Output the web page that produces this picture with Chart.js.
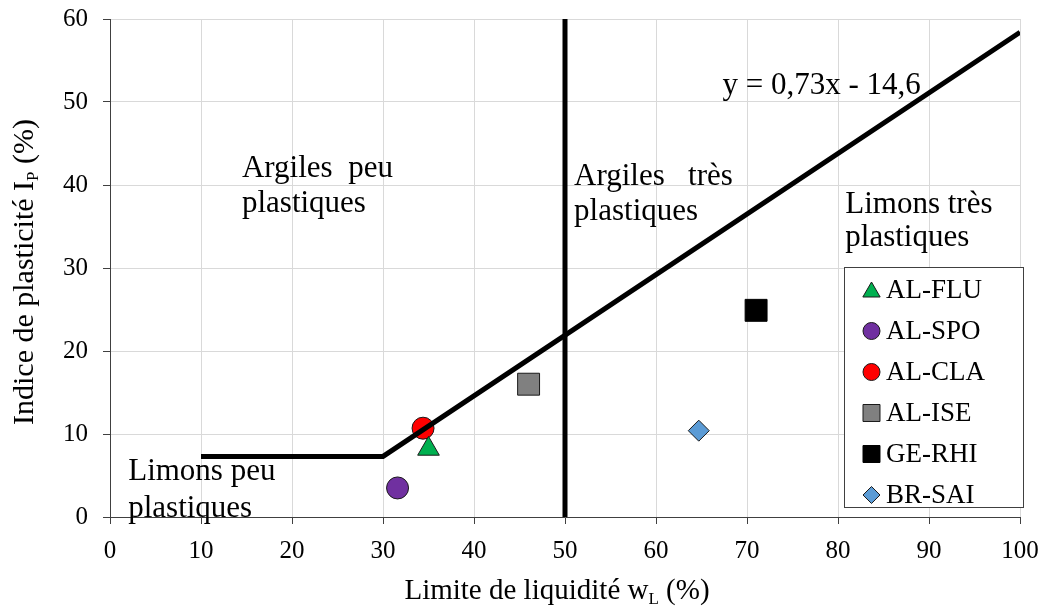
<!DOCTYPE html>
<html>
<head>
<meta charset="utf-8">
<script src="https://cdn.jsdelivr.net/npm/chart.js@4.4.0/dist/chart.umd.min.js"></script>
<style>
    html, body { margin: 0; padding: 0; background: #fff; }
</style>
</head>
<body>
<canvas id="myChart" width="1044" height="607"></canvas>
<script>
// samples (liquid limit wL, plasticity index Ip)
const sampleNames = ['AL-FLU', 'AL-SPO', 'AL-CLA', 'AL-ISE', 'GE-RHI', 'BR-SAI'];
const liquidLimit = [35.0, 31.6, 34.4, 46.0, 71.0, 64.7];
const plasticityIndex = [8.2, 3.5, 10.7, 16.0, 24.9, 10.4];

// Casagrande A-line and the wL = 50 boundary
const aLineX = [10, 30, 100];
const aLineY = [7.3, 7.3, 58.4];
const boundaryX = [50, 50];
const boundaryY = [0, 60];

const xTicks = [0, 10, 20, 30, 40, 50, 60, 70, 80, 90, 100];
const yTicks = [0, 10, 20, 30, 40, 50, 60];

const markerStyles = [
    { pointStyle: 'triangle', radius: 12.5, bg: '#00b050', border: '#1a1a1a', lr: 10 },
    { pointStyle: 'circle', radius: 11, bg: '#7030a0', border: '#1a1a1a', lr: 8.5 },
    { pointStyle: 'circle', radius: 11, bg: '#ff0000', border: '#1a1a1a', lr: 8.5 },
    { pointStyle: 'rect', radius: 15.5, bg: '#808080', border: '#1a1a1a', lr: 12 },
    { pointStyle: 'rect', radius: 15.5, bg: '#000000', border: '#000000', lr: 12 },
    { pointStyle: 'rectRot', radius: 10.5, bg: '#5b9bd5', border: '#1a1a1a', lr: 8.5 }
];

// zone labels: [lines, x, y of first baseline, y of second baseline]
const notes = [
    [['Argiles  peu', 'plastiques'], 14.5, 41.0, 36.75],
    [['Argiles   très', 'plastiques'], 51.0, 40.0, 35.8],
    [['Limons très', 'plastiques'], 80.8, 36.6, 32.6],
    [['y = 0,73x - 14,6'], 67.3, 51.0, null],
    [['Limons peu', 'plastiques'], 2.0, 4.45, 0.05]
];

const SERIF = '"Liberation Serif", "Times New Roman", serif';

const datasets = [];
datasets.push({
    label: 'A-line',
    data: aLineX.map((x, i) => ({ x: x, y: aLineY[i] })),
    showLine: true,
    borderColor: '#000',
    borderWidth: 5,
    pointRadius: 0,
    order: 0
});
datasets.push({
    label: 'wL50',
    data: boundaryX.map((x, i) => ({ x: x, y: boundaryY[i] })),
    showLine: true,
    borderColor: '#000',
    borderWidth: 5,
    pointRadius: 0,
    order: 0
});
for (let i = 0; i < sampleNames.length; i++) {
    const s = markerStyles[i];
    datasets.push({
        label: sampleNames[i],
        data: [{ x: liquidLimit[i], y: plasticityIndex[i] }],
        pointStyle: s.pointStyle,
        pointRadius: s.radius,
        backgroundColor: s.bg,
        borderColor: s.border,
        borderWidth: 1,
        order: 1
    });
}

function drawRich(ctx, parts, x, y, size, subSize) {
    // parts: [text, isSubscript]; x is the centre
    let total = 0;
    for (const p of parts) {
        ctx.font = (p[1] ? subSize : size) + 'px ' + SERIF;
        total += ctx.measureText(p[0]).width;
    }
    let cx = x - total / 2;
    for (const p of parts) {
        ctx.font = (p[1] ? subSize : size) + 'px ' + SERIF;
        ctx.fillText(p[0], cx, p[1] ? y + 5 : y);
        cx += ctx.measureText(p[0]).width;
    }
}

const extras = {
    id: 'extras',
    afterDraw(chart) {
        const ctx = chart.ctx;
        const xs = chart.scales.x;
        const ys = chart.scales.y;
        const area = chart.chartArea;
        ctx.save();
        ctx.fillStyle = '#000';
        ctx.textAlign = 'left';
        ctx.textBaseline = 'alphabetic';

        // zone labels
        ctx.font = '31px ' + SERIF;
        for (const n of notes) {
            const px = xs.getPixelForValue(n[1]);
            ctx.fillText(n[0][0], px, ys.getPixelForValue(n[2]));
            if (n[0][1]) ctx.fillText(n[0][1], px, ys.getPixelForValue(n[3]));
        }

        // axis titles
        drawRich(ctx, [['Limite de liquidité w', false], ['L', true], [' (%)', false]],
            (area.left + area.right) / 2 - 8, 599, 29, 17);
        ctx.save();
        ctx.translate(33, (area.top + area.bottom) / 2 + 4);
        ctx.rotate(-Math.PI / 2);
        drawRich(ctx, [['Indice de plasticité I', false], ['P', true], [' (%)', false]],
            0, 0, 30, 17);
        ctx.restore();

        // legend box
        const bx = 844, by = 267, bw = 179, bh = 240;
        ctx.fillStyle = '#fff';
        ctx.fillRect(bx, by, bw, bh);
        ctx.strokeStyle = '#404040';
        ctx.lineWidth = 1;
        ctx.strokeRect(bx + 0.5, by + 0.5, bw, bh);
        for (let i = 0; i < sampleNames.length; i++) {
            const s = markerStyles[i];
            const cy = 290 + i * 41;
            ctx.fillStyle = s.bg;
            ctx.strokeStyle = s.border;
            ctx.lineWidth = 1;
            Chart.helpers.drawPoint(ctx, { pointStyle: s.pointStyle, radius: s.lr, rotation: 0, borderWidth: 1 }, 871.5, cy + (s.pointStyle === 'triangle' ? 2 : 0));
            ctx.fillStyle = '#000';
            ctx.font = '27px ' + SERIF;
            ctx.fillText(sampleNames[i], 886, cy + 8);
        }
        ctx.restore();
    }
};

const ctx = document.getElementById('myChart').getContext('2d');
const myChart = new Chart(ctx, {
    type: 'scatter',
    data: { datasets: datasets },
    options: {
        responsive: false,
        animation: false,
        devicePixelRatio: 1,
        layout: { padding: { top: 19, right: 24, left: 0, bottom: 0 } },
        plugins: {
            legend: { display: false },
            tooltip: { enabled: false }
        },
        scales: {
            x: {
                type: 'linear',
                min: 0,
                max: 100,
                afterFit: (scale) => {
                    scale.height = 90;
                    scale.paddingLeft = 0;
                    scale.paddingRight = 0;
                },
                afterBuildTicks: (scale) => { scale.ticks = xTicks.map(v => ({ value: v })); },
                grid: { color: '#d9d9d9', tickColor: '#404040', tickLength: 7 },
                border: { color: '#404040', width: 1 },
                ticks: { color: '#000', padding: 12, font: { family: SERIF, size: 25 } }
            },
            y: {
                type: 'linear',
                min: 0,
                max: 60,
                afterFit: (scale) => {
                    scale.width = 110;
                    scale.paddingTop = 0;
                    scale.paddingBottom = 0;
                },
                afterBuildTicks: (scale) => { scale.ticks = yTicks.map(v => ({ value: v })); },
                grid: { color: '#d9d9d9', tickColor: '#404040', tickLength: 7 },
                border: { color: '#404040', width: 1 },
                ticks: { color: '#000', padding: 15, font: { family: SERIF, size: 25 } }
            }
        }
    },
    plugins: [extras]
});
</script>
</body>
</html>
